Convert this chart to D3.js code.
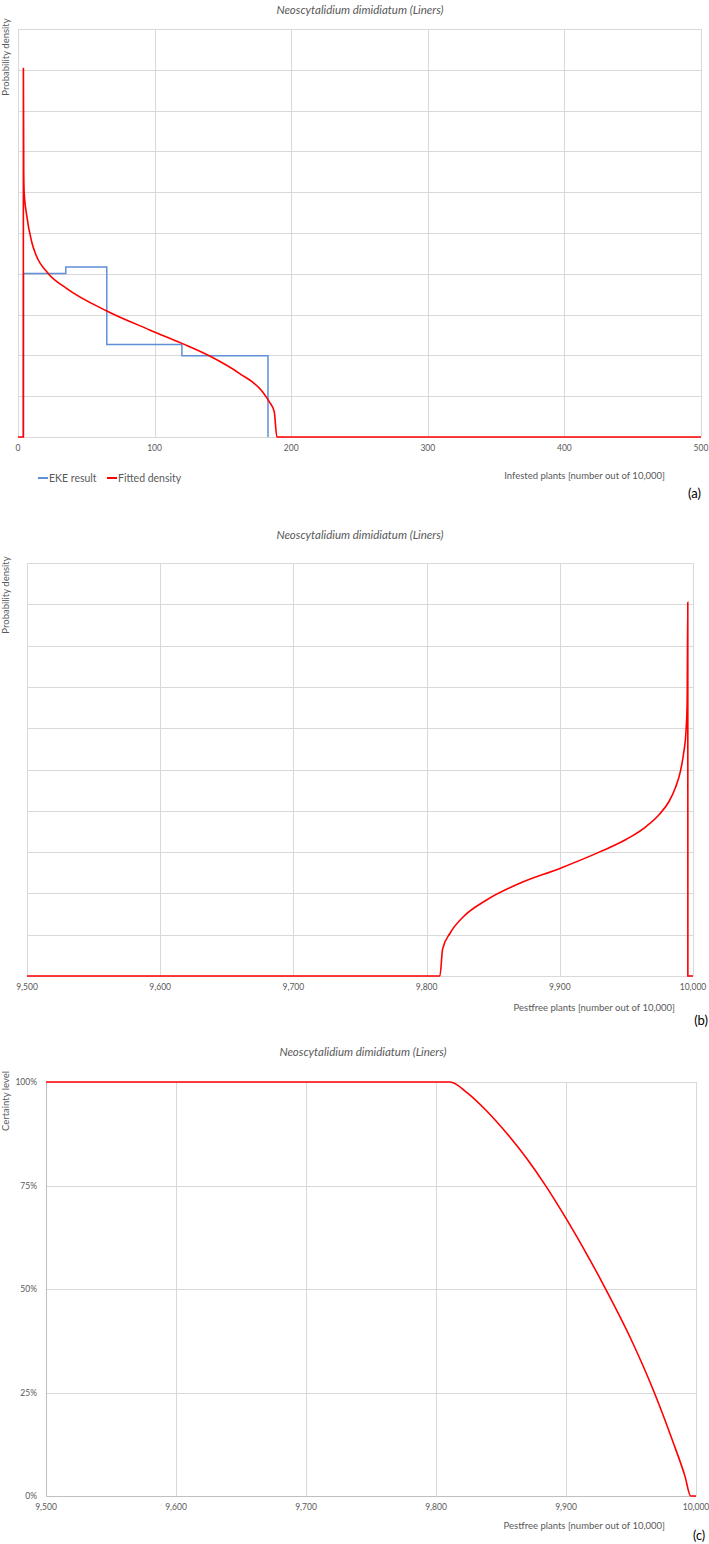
<!DOCTYPE html>
<html>
<head>
<meta charset="utf-8">
<script src="https://cdn.jsdelivr.net/npm/d3@7"></script>
<style>
  body { margin: 0; background: #fff; }
  svg { display: block; font-family: Lato, "Open Sans", sans-serif; }
  .grid line { stroke: #d9d9d9; stroke-width: 1; }
  .tick-label { fill: #595959; font-size: 8.5px; }
  .axis-title { fill: #595959; font-size: 9.5px; }
  .chart-title { fill: #595959; font-size: 11.5px; font-style: italic; }
  .panel-label { fill: #000; font-size: 13px; }
</style>
</head>
<body>
<svg id="chart" width="709" height="1544"></svg>
<script>
const chartTitle = 'Neoscytalidium dimidiatum (Liners)';

// (a) infested plants, EKE histogram and fitted density
const infestedTicks = [0, 100, 200, 300, 400, 500];
const densityGrid = [0, 0.002, 0.004, 0.006, 0.008, 0.01, 0.012, 0.014, 0.016, 0.018, 0.02];
const ekeEdges = [4, 35, 65, 120, 183];
const ekeDensity = [0.00802, 0.00833, 0.00454, 0.00398];
const fitInfested = [0, 3.9, 3.95, 4.2, 4.5, 6.3, 10, 13.2, 22.1, 35.5, 65, 96.4, 120, 140, 162, 179, 184, 187.6, 189.5, 500];
const fitInfestedDensity = [0, 0, 0.0181, 0.0130, 0.0120, 0.0109, 0.00957, 0.00892, 0.00802, 0.00729, 0.00618, 0.00525, 0.00459, 0.00398, 0.00312, 0.00222, 0.00172, 0.00124, 0, 0];

// (b) pest free plants, fitted density
const pestfreeTicks = [9500, 9600, 9700, 9800, 9900, 10000];
const fitPestfree = [9500, 9810, 9812, 9817.6, 9827.6, 9845, 9870, 9900, 9930, 9950, 9965, 9975, 9982, 9987, 9990.5, 9993, 9994.7, 9995.6, 9996.1, 9996.15, 10000];
const fitPestfreeDensity = [0, 0, 0.0013, 0.00207, 0.00287, 0.00368, 0.00449, 0.00521, 0.00601, 0.00662, 0.00725, 0.00785, 0.00845, 0.00915, 0.0099, 0.0108, 0.0118, 0.0132, 0.0181, 0, 0];

// (c) certainty level
const certaintyTicks = [0, 0.25, 0.5, 0.75, 1];
const cdfPestfree = [9500, 9810.8, 9823.6, 9839, 9854.4, 9869.8, 9883.8, 9900.5, 9918.5, 9930, 9949.2, 9967.9, 9982.6, 9991.5, 9995.9, 10000];
const cdfCertainty = [1, 1, 0.975, 0.930, 0.876, 0.815, 0.752, 0.668, 0.570, 0.503, 0.384, 0.250, 0.128, 0.048, 0, 0];

const svg = d3.select('#chart');
const fmtThousands = d3.format(',');

function gridLines(g, x, y, xTicks, yTicks) {
  const grid = g.append('g').attr('class', 'grid');
  grid.selectAll('.gx')
    .data(xTicks)
    .enter()
    .append('line')
    .attr('x1', d => Math.round(x(d)) + 0.5)
    .attr('x2', d => Math.round(x(d)) + 0.5)
    .attr('y1', y.range()[0])
    .attr('y2', y.range()[1]);
  grid.selectAll('.gy')
    .data(yTicks)
    .enter()
    .append('line')
    .attr('x1', x.range()[0])
    .attr('x2', x.range()[1])
    .attr('y1', d => Math.round(y(d)) + 0.5)
    .attr('y2', d => Math.round(y(d)) + 0.5);
}

function xTickLabels(g, x, ticks, ypos, fmt) {
  g.append('g')
    .selectAll('text')
    .data(ticks)
    .enter()
    .append('text')
    .attr('class', 'tick-label')
    .attr('x', d => x(d))
    .attr('y', ypos)
    .attr('text-anchor', 'middle')
    .text(fmt);
}

function text(cls, x, y, anchor, str, rotate) {
  const t = svg.append('text')
    .attr('class', cls)
    .attr('x', x)
    .attr('y', y)
    .attr('text-anchor', anchor)
    .text(str);
  if (rotate) t.attr('transform', `rotate(-90, ${x}, ${y})`);
  return t;
}

// ---------- panel (a) ----------
const xA = d3.scaleLinear().domain([0, 500]).range([18, 701]);
const yA = d3.scaleLinear().domain([0, 0.02]).range([437, 29]);
const gA = svg.append('g');
gridLines(gA, xA, yA, infestedTicks, densityGrid);

const ekePoints = [[ekeEdges[0], 0]];
ekeDensity.forEach((d, i) => {
  ekePoints.push([ekeEdges[i], d]);
  ekePoints.push([ekeEdges[i + 1], d]);
});
ekePoints.push([ekeEdges[ekeEdges.length - 1], 0]);

gA.append('path')
  .datum(ekePoints)
  .attr('fill', 'none')
  .attr('stroke', '#5f8fd8')
  .attr('stroke-width', 1.5)
  .attr('d', d3.line().x(d => xA(d[0])).y(d => yA(d[1])));

gA.append('path')
  .datum(d3.zip(fitInfested, fitInfestedDensity))
  .attr('fill', 'none')
  .attr('stroke', '#ff0000')
  .attr('stroke-width', 1.6)
  .attr('d', d3.line().curve(d3.curveMonotoneX).x(d => xA(d[0])).y(d => yA(d[1])));

xTickLabels(gA, xA, infestedTicks, 451, d => d);
text('chart-title', 360, 14, 'middle', chartTitle);
text('axis-title', 9, 57, 'middle', 'Probability density', true);
text('axis-title', 665, 479, 'end', 'Infested plants [number out of 10,000]');
text('panel-label', 701, 498, 'end', '(a)');

// legend
const legend = svg.append('g').attr('transform', 'translate(38,478)');
const legendItems = [
  { label: 'EKE result', color: '#5f8fd8', x: 0 },
  { label: 'Fitted density', color: '#ff0000', x: 69 }
];
legendItems.forEach(item => {
  legend.append('line')
    .attr('x1', item.x).attr('x2', item.x + 10)
    .attr('y1', 0).attr('y2', 0)
    .attr('stroke', item.color)
    .attr('stroke-width', 2);
  legend.append('text')
    .attr('x', item.x + 11)
    .attr('y', 3.5)
    .attr('fill', '#595959')
    .attr('font-size', '10.5px')
    .text(item.label);
});

// ---------- panel (b) ----------
const xB = d3.scaleLinear().domain([9500, 10000]).range([27, 693]);
const yB = d3.scaleLinear().domain([0, 0.02]).range([976, 563]);
const gB = svg.append('g');
gridLines(gB, xB, yB, pestfreeTicks, densityGrid);

gB.append('path')
  .datum(d3.zip(fitPestfree, fitPestfreeDensity))
  .attr('fill', 'none')
  .attr('stroke', '#ff0000')
  .attr('stroke-width', 1.6)
  .attr('d', d3.line().curve(d3.curveMonotoneX).x(d => xB(d[0])).y(d => yB(d[1])));

xTickLabels(gB, xB, pestfreeTicks, 990, fmtThousands);
text('chart-title', 360, 539, 'middle', chartTitle);
text('axis-title', 9, 595, 'middle', 'Probability density', true);
text('axis-title', 675, 1011, 'end', 'Pestfree plants [number out of 10,000]');
text('panel-label', 708, 1025, 'end', '(b)');

// ---------- panel (c) ----------
const xC = d3.scaleLinear().domain([9500, 10000]).range([46, 696]);
const yC = d3.scaleLinear().domain([0, 1]).range([1496, 1082]);
const gC = svg.append('g');
gridLines(gC, xC, yC, pestfreeTicks.slice(1), certaintyTicks.slice(1));

gC.append('g')
  .attr('transform', `translate(0,${yC(0)})`)
  .call(d3.axisBottom(xC).tickValues([]).tickSize(0))
  .call(g => g.select('.domain').attr('stroke', '#bfbfbf'));
gC.append('g')
  .attr('transform', `translate(${xC(9500)},0)`)
  .call(d3.axisLeft(yC).tickValues([]).tickSize(0))
  .call(g => g.select('.domain').attr('stroke', '#bfbfbf'));

gC.append('path')
  .datum(d3.zip(cdfPestfree, cdfCertainty))
  .attr('fill', 'none')
  .attr('stroke', '#ff0000')
  .attr('stroke-width', 1.6)
  .attr('d', d3.line().curve(d3.curveMonotoneX).x(d => xC(d[0])).y(d => yC(d[1])));

xTickLabels(gC, xC, pestfreeTicks, 1510, fmtThousands);
gC.append('g')
  .selectAll('text')
  .data(certaintyTicks)
  .enter()
  .append('text')
  .attr('class', 'tick-label')
  .attr('x', 37)
  .attr('y', d => yC(d) + 3)
  .attr('text-anchor', 'end')
  .text(d3.format('.0%'));

text('chart-title', 363, 1056, 'middle', chartTitle);
text('axis-title', 9, 1101, 'middle', 'Certainty level', true);
text('axis-title', 665, 1529, 'end', 'Pestfree plants [number out of 10,000]');
text('panel-label', 705, 1540, 'end', '(c)').style('font-size', '12.5px');
</script>
</body>
</html>
